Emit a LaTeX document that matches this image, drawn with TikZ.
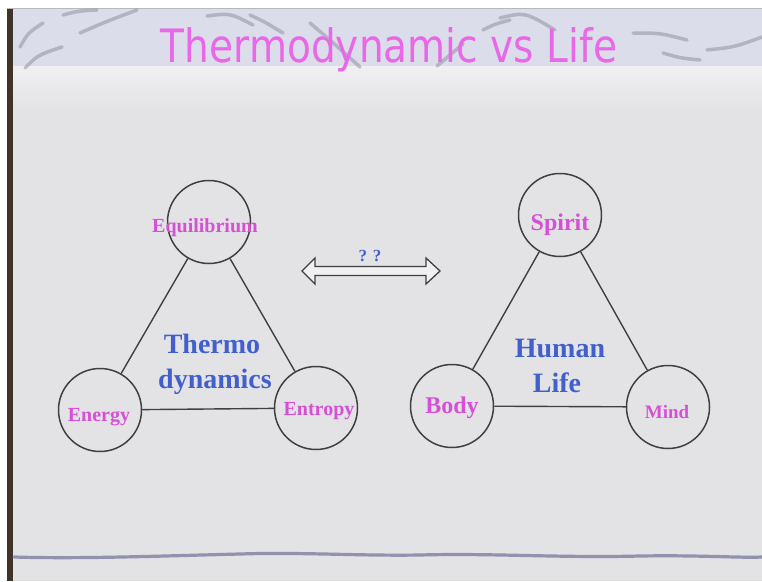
\documentclass[tikz,border=0pt]{standalone}
\usepackage{fontspec}
\setmainfont{Liberation Serif}
\newfontfamily\titlefont{DejaVu Sans}

\definecolor{slidebg}{RGB}{227,227,230}
\definecolor{bandbg}{RGB}{220,221,234}
\definecolor{bandfade}{RGB}{240,240,242}
\definecolor{swoosh}{RGB}{140,140,158}
\definecolor{titlemag}{RGB}{232,104,232}
\definecolor{labelmag}{RGB}{214,80,214}
\definecolor{textblue}{RGB}{66,96,204}
\definecolor{edgegray}{RGB}{64,64,64}
\definecolor{slideframe}{RGB}{62,52,42}
\definecolor{rulecol}{RGB}{146,146,174}

\tikzset{
  ring/.style={circle, draw=edgegray, line width=1.5pt, minimum size=83pt, inner sep=0pt},
  link/.style={draw=edgegray, line width=1.4pt},
  conceptlabel/.style={text=labelmag, font=\bfseries, anchor=base, inner sep=0pt},
  centertext/.style={text=textblue, font=\fontsize{28}{30}\selectfont\bfseries, anchor=base, inner sep=0pt},
  swooshstroke/.style={draw=swoosh, line width=3.5pt, line cap=round, opacity=0.5},
}

\begin{document}
\begin{tikzpicture}[x=1pt,y=-1pt]
\useasboundingbox (0,0) rectangle (762,581);

% page and slide background
\fill[white] (0,0) rectangle (762,581);
\fill[slidebg] (13,9) rectangle (762,581);
\fill[bandbg] (13,9) rectangle (762,66);
\shade[top color=bandfade, bottom color=slidebg] (13,66) rectangle (762,110);
\fill[slideframe] (7,8) rectangle (13,581);
\draw[gray!55, line width=1pt] (7,8.5) -- (762,8.5);

% decorative strokes in the title band
\draw[swooshstroke] (20,47) .. controls (28,33) .. (43,23);
\draw[swooshstroke] (25,68) .. controls (38,55) .. (62,47);
\draw[swooshstroke] (80,33) .. controls (105,22) .. (137,10);
\draw[swooshstroke] (63,15) .. controls (78,11) .. (97,10);
\draw[swooshstroke] (207,16) .. controls (230,13) .. (253,25);
\draw[swooshstroke] (250,15) .. controls (265,22) .. (283,33);
\draw[swooshstroke] (310,23) .. controls (330,40) .. (360,67);
\draw[swooshstroke] (437,66) .. controls (450,55) .. (463,44);
\draw[swooshstroke] (483,30) .. controls (495,24) .. (510,20);
\draw[swooshstroke] (500,18) .. controls (525,12) .. (555,30);
\draw[swooshstroke] (633,33) .. controls (660,33) .. (687,40);
\draw[swooshstroke] (663,53) .. controls (680,58) .. (700,60);
\draw[swooshstroke] (707,50) .. controls (735,47) .. (762,37);

% title
\node[anchor=base, inner sep=0pt, text=titlemag] (title) at (389,62)
  {\titlefont\fontsize{46}{50}\selectfont\scalebox{0.85}[1]{Thermodynamic vs Life}};

% left triangle: thermodynamics
\node[ring] (eq) at (209,222) {};
\node[ring] (en) at (100,410) {};
\node[ring] (ent) at (316,408) {};
\draw[link] (eq) -- (en);
\draw[link] (eq) -- (ent);
\draw[link] (en) -- (ent);

\node[conceptlabel, font=\fontsize{20}{22}\selectfont\bfseries] (eqlabel) at (205,232) {Equilibrium};
\node[conceptlabel, font=\fontsize{20}{22}\selectfont\bfseries] (enlabel) at (99,421) {Energy};
\node[conceptlabel, font=\fontsize{20}{22}\selectfont\bfseries] (entlabel) at (319,415) {Entropy};
\node[centertext] (thermo) at (212,353) {Thermo};
\node[centertext] (dynamics) at (215,388) {dynamics};

% double arrow between the two triangles
\filldraw[fill=bandfade, draw=edgegray, line width=1.3pt, line join=miter]
  (302,271) -- (315,258) -- (315,266.5) -- (426,266.5) -- (426,258) -- (440,271)
  -- (426,284) -- (426,275.5) -- (315,275.5) -- (315,284) -- cycle;
\node[anchor=base, inner sep=0pt, text=textblue, font=\fontsize{17}{19}\selectfont\bfseries] (question) at (370,261) {? ?};

% right triangle: human life
\node[ring] (sp) at (560,215) {};
\node[ring] (bo) at (452,406) {};
\node[ring] (mi) at (668,407) {};
\draw[link] (sp) -- (bo);
\draw[link] (sp) -- (mi);
\draw[link] (bo) -- (mi);

\node[conceptlabel, font=\fontsize{24}{26}\selectfont\bfseries] (splabel) at (560,230) {Spirit};
\node[conceptlabel, font=\fontsize{24}{26}\selectfont\bfseries] (bolabel) at (452,413) {Body};
\node[conceptlabel, font=\fontsize{19}{21}\selectfont\bfseries] (milabel) at (667,418) {Mind};
\node[centertext] (human) at (560,357) {Human};
\node[centertext] (life) at (557,392) {Life};

% wavy rule near the bottom of the slide
\draw[rulecol, line width=3.2pt, line cap=round]
  (14,557) .. controls (80,559) and (160,556) .. (240,554)
  .. controls (300,552) and (360,556) .. (420,555)
  .. controls (490,553) and (560,558) .. (640,556)
  .. controls (700,555) and (740,558) .. (762,557);
\end{tikzpicture}
\end{document}
